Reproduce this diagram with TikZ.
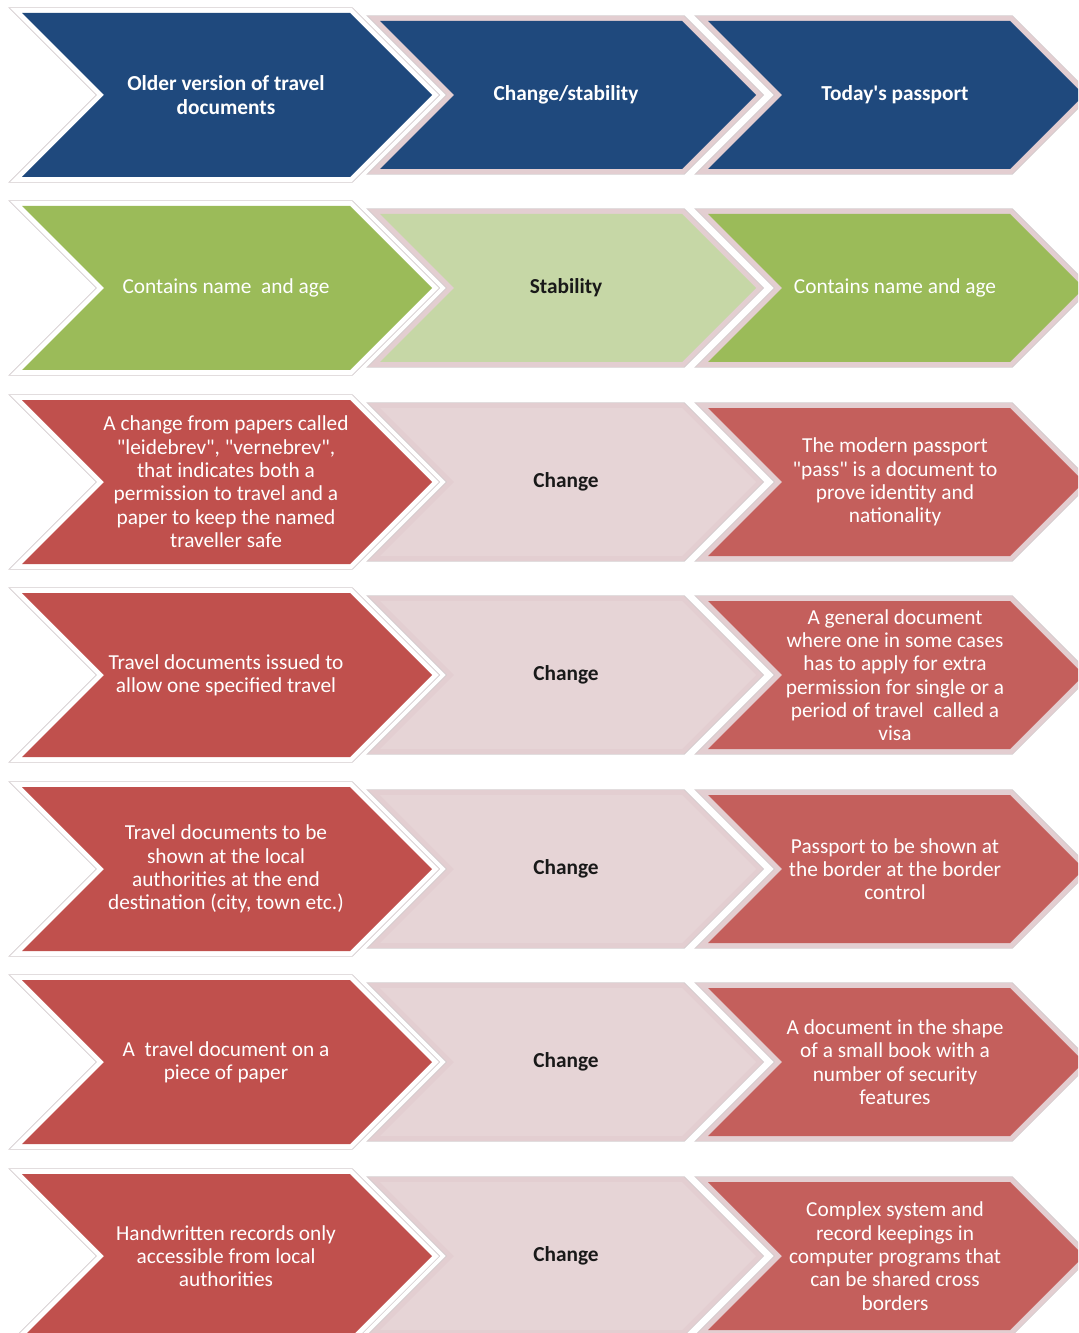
\documentclass[tikz,border=0pt]{standalone}
\usepackage{fontspec}
\setmainfont{Carlito}[Ligatures=TeXOff]

\definecolor{navy}{HTML}{1F497D}
\definecolor{leaf}{HTML}{9BBB59}
\definecolor{paleleaf}{HTML}{C6D7A6}
\definecolor{brick}{HTML}{C0504D}
\definecolor{rose}{HTML}{C45F5C}
\definecolor{blush}{HTML}{E6D4D6}
\definecolor{band}{HTML}{E3CED1}
\definecolor{rim}{HTML}{D3CBCD}

% chevron: #1 left x, #2 shoulder x, #3 half height, #4 centre y, #5 band colour, #6 fill colour
\newcommand{\chev}[6]{%
  \draw[line width=8.6pt, draw=rim, line join=miter]
    (#1,#4-#3) -- (#2,#4-#3) -- (#2+#3,#4) -- (#2,#4+#3) -- (#1,#4+#3) -- (#1+#3,#4) -- cycle;
  \draw[line width=7.4pt, draw=#5, line join=miter]
    (#1,#4-#3) -- (#2,#4-#3) -- (#2+#3,#4) -- (#2,#4+#3) -- (#1,#4+#3) -- (#1+#3,#4) -- cycle;
  \fill[#6]
    (#1,#4-#3) -- (#2,#4-#3) -- (#2+#3,#4) -- (#2,#4+#3) -- (#1,#4+#3) -- (#1+#3,#4) -- cycle;
}
% one row: centre y, left fill, middle fill, right fill
\newcommand{\chevrow}[4]{%
  \chev{22}{350}{82}{#1}{white}{#2}
  \chev{380}{682}{74}{#1}{band}{#3}
  \chev{708}{1010}{74}{#1}{band}{#4}
}

\tikzset{
  txt/.style={align=center, font=\fontsize{16}{17.5}\selectfont},
  lt/.style={txt, text=white},
  hd/.style={txt, text=white, font=\fontsize{16}{17.5}\selectfont\bfseries},
  mid/.style={txt, text=black!90, font=\fontsize{16}{17.5}\selectfont\bfseries},
}

\begin{document}
\begin{tikzpicture}[x=0.75pt, y=-0.75pt]
  \clip (0,0) rectangle (1078,1333);
  \fill[white] (0,0) rectangle (1078,1333);

  \chevrow{95}{navy}{navy}{navy}
  \chevrow{288}{leaf}{paleleaf}{leaf}
  \chevrow{482}{brick}{blush}{rose}
  \chevrow{675}{brick}{blush}{rose}
  \chevrow{869}{brick}{blush}{rose}
  \chevrow{1062}{brick}{blush}{rose}
  \chevrow{1256}{brick}{blush}{rose}

  % header row
  \node[hd] (h1) at (226,95) {Older version of travel\\documents};
  \node[hd] (h2) at (566,95) {Change/stability};
  \node[hd] (h3) at (895,95) {Today's passport};

  % name and age
  \node[lt] (a1) at (226,288) {Contains name\ \ and age};
  \node[mid] (a2) at (566,288) {Stability};
  \node[lt] (a3) at (895,288) {Contains name and age};

  % purpose
  \node[lt] (b1) at (226,482) {A change from papers called\\"leidebrev", "vernebrev",\\that indicates both a\\permission to travel and a\\paper to keep the named\\traveller safe};
  \node[mid] (b2) at (566,482) {Change};
  \node[lt] (b3) at (895,482) {The modern passport\\"pass" is a document to\\prove identity and\\nationality};

  % scope of travel
  \node[lt] (c1) at (226,675) {Travel documents issued to\\allow one specified travel};
  \node[mid] (c2) at (566,675) {Change};
  \node[lt] (c3) at (895,675) {A general document\\where one in some cases\\has to apply for extra\\permission for single or a\\period of travel\ \ called a\\visa};

  % where shown
  \node[lt] (d1) at (226,869) {Travel documents to be\\shown at the local\\authorities at the end\\destination (city, town etc.)};
  \node[mid] (d2) at (566,869) {Change};
  \node[lt] (d3) at (895,869) {Passport to be shown at\\the border at the border\\control};

  % form
  \node[lt] (e1) at (226,1062) {A\ \ travel document on a\\piece of paper};
  \node[mid] (e2) at (566,1062) {Change};
  \node[lt] (e3) at (895,1062) {A document in the shape\\of a small book with a\\number of security\\features};

  % records
  \node[lt] (f1) at (226,1256) {Handwritten records only\\accessible from local\\authorities};
  \node[mid] (f2) at (566,1256) {Change};
  \node[lt] (f3) at (895,1256) {Complex system and\\record keepings in\\computer programs that\\can be shared cross\\borders};
\end{tikzpicture}
\end{document}
